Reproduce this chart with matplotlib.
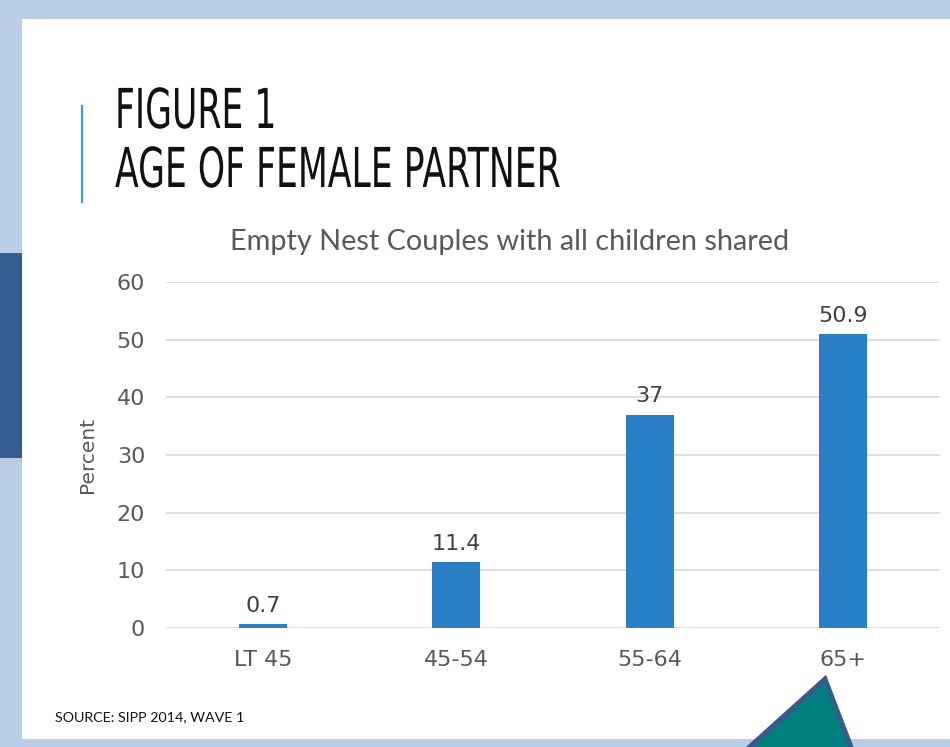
import matplotlib
matplotlib.use('Agg')
from matplotlib import pyplot as plt
from matplotlib.patches import Rectangle, Polygon, PathPatch
from matplotlib.lines import Line2D
from matplotlib.textpath import TextPath
from matplotlib.font_manager import FontProperties
from matplotlib.transforms import Affine2D, IdentityTransform

# Chart data
age_groups = ['LT 45', '45-54', '55-64', '65+']
percents = [0.7, 11.4, 37, 50.9]
y_ticks = [0, 10, 20, 30, 40, 50, 60]

W, H = 950, 747
fig = plt.figure(figsize=(W / 100, H / 100), dpi=100)
fig.patch.set_facecolor('#b9cde4')


def px(x, y):
    """Pixel (from top-left) to figure fraction."""
    return x / W, 1 - y / H


def condensed_text(s, x, baseline, em_px, squeeze):
    """Draw a horizontally squeezed text line (pixel coords from top-left)."""
    tp = TextPath((0, 0), s, size=1, prop=FontProperties(family='DejaVu Sans'))
    tr = Affine2D().scale(em_px * squeeze, em_px).translate(x, H - baseline)
    patch = PathPatch(tr.transform_path(tp), transform=IdentityTransform(),
                      facecolor='#111111', edgecolor='none', zorder=3)
    fig.patches.append(patch)


# slide decorations
fig.patches.append(Rectangle(px(22, 739), (W - 22) / W, (739 - 19) / H,
                             transform=fig.transFigure, facecolor='white',
                             edgecolor='none', zorder=-2))
fig.patches.append(Rectangle(px(0, 458), 22 / W, (458 - 253) / H,
                             transform=fig.transFigure, facecolor='#375e91',
                             edgecolor='none', zorder=-2))
fig.lines.append(Line2D([82 / W, 82 / W], [1 - 106 / H, 1 - 202 / H],
                        transform=fig.transFigure, color='#3aa3c9', lw=1.6))
tri = [px(825, 679), px(735, 760), px(856, 760)]
fig.patches.append(Polygon(tri, closed=True, transform=fig.transFigure,
                           facecolor='#007f80', edgecolor='#3a5a8c',
                           lw=3.5, zorder=5))

# slide title (tall condensed lettering)
condensed_text('FIGURE 1', 115, 128, 55, 0.63)
condensed_text('AGE OF FEMALE PARTNER', 115, 187, 55, 0.63)
fig.text(55 / W, 1 - 717 / H, 'SOURCE: SIPP 2014, WAVE 1', fontsize=10.3,
         family='Lato', color='#111111', va='center', ha='left')

# chart
ax = fig.add_axes([166 / W, 1 - 628 / H, (940 - 166) / W, (628 - 282) / H])
ax.set_zorder(1)
ax.set_facecolor('none')
x = range(len(age_groups))
bars = ax.bar(x, percents, width=0.25, color='#2a80c6', zorder=3)
ax.set_xlim(-0.5, 3.5)
ax.set_ylim(0, 60)
ax.set_yticks(y_ticks)
ax.set_xticks(list(x))
ax.set_xticklabels(age_groups)
ax.grid(axis='y', color='#d9d9d9', lw=1.2, zorder=0)
ax.set_axisbelow(True)
for s in ax.spines.values():
    s.set_visible(False)
ax.tick_params(length=0, labelsize=16, labelcolor='#595959')
ax.tick_params(axis='y', pad=15)
ax.tick_params(axis='x', pad=16)
for lab in ax.get_xticklabels() + ax.get_yticklabels():
    lab.set_family('DejaVu Sans')
ax.set_ylabel('Percent', fontsize=14.5, color='#595959', family='DejaVu Sans',
              labelpad=14)
for b, v in zip(bars, percents):
    ax.annotate(f'{v:g}', (b.get_x() + b.get_width() / 2, v),
                xytext=(0, 6), textcoords='offset points', ha='center',
                va='bottom', fontsize=16, color='#404040', family='DejaVu Sans')

fig.text(510 / W, 1 - 242 / H, 'Empty Nest Couples with all children shared',
         fontsize=20.8, family='Lato', color='#595959', ha='center', va='center')

fig.savefig('out.png', dpi=100, facecolor=fig.get_facecolor())
